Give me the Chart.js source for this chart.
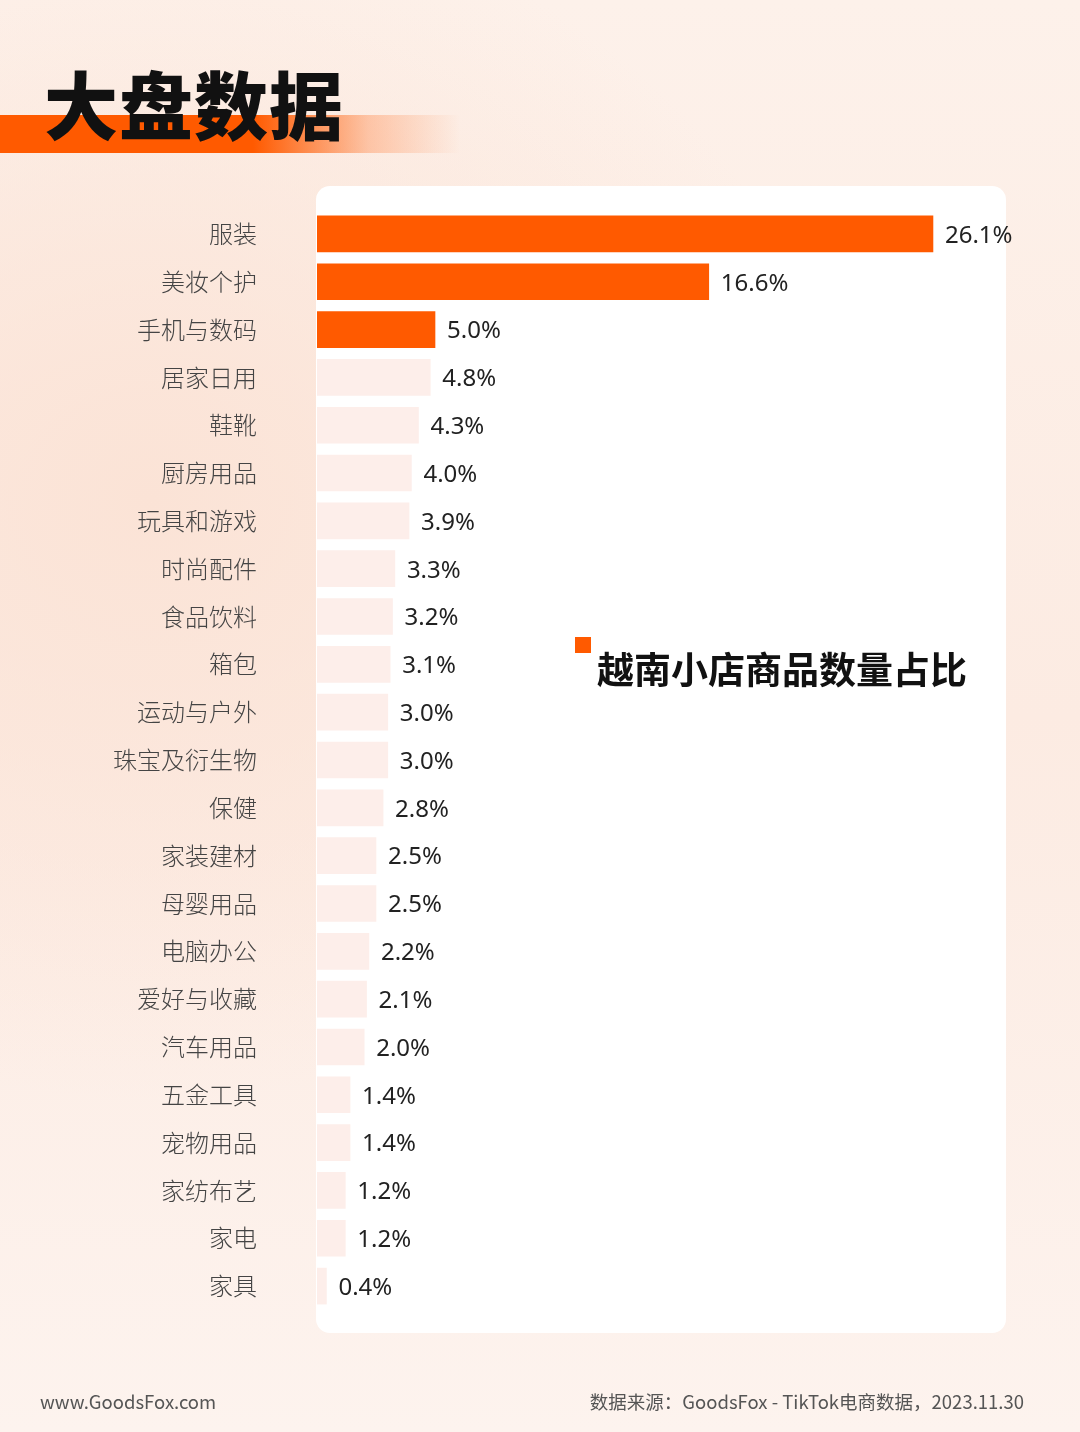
<!DOCTYPE html>
<html><head><meta charset="utf-8">
<script src="https://cdn.jsdelivr.net/npm/chart.js@4"></script>
<style>
html,body{margin:0;padding:0;}
body{width:1080px;height:1432px;position:relative;overflow:hidden;font-family:"Noto Sans CJK SC","Noto Sans",sans-serif;
background:radial-gradient(ellipse 700px 600px at 150px 500px,#fbe3d6 0%,rgba(251,227,214,0) 100%),linear-gradient(180deg,#fdf1ea 0%,#fcebe2 50%,#fdf3ee 100%);}
#stripe{position:absolute;left:0;top:115px;width:460px;height:38px;background:linear-gradient(90deg,#ff5a00 0%,#ff5a00 55%,rgba(255,120,50,0.35) 80%,rgba(255,160,110,0) 100%);}
#title{position:absolute;left:44px;top:52px;font-size:74px;font-weight:900;color:#111;letter-spacing:1px;line-height:100px;}
#card{position:absolute;left:316px;top:186px;width:690px;height:1147px;background:#fff;border-radius:14px;}
#c{position:absolute;left:0;top:0;}
#legend{position:absolute;left:575px;top:637px;}
#legend .sq{position:absolute;left:0;top:0;width:16px;height:16px;background:#ff5a00;}
#legend .t{position:absolute;left:22px;top:6px;white-space:nowrap;font-size:37px;font-weight:700;color:#111;line-height:50px;}
.foot{position:absolute;top:1388px;font-size:18.5px;color:#555;white-space:nowrap;}
</style></head><body>
<div id="stripe"></div>
<div id="title">大盘数据</div>
<div id="card"></div>
<canvas id="c" width="1080" height="1432"></canvas>
<div id="legend"><div class="sq"></div><div class="t">越南小店商品数量占比</div></div>
<div class="foot" style="left:40px">www.GoodsFox.com</div>
<div class="foot" style="right:56px">数据来源：GoodsFox - TikTok电商数据，2023.11.30</div>
<script>
const categories=["服装","美妆个护","手机与数码","居家日用","鞋靴","厨房用品","玩具和游戏","时尚配件","食品饮料","箱包","运动与户外","珠宝及衍生物","保健","家装建材","母婴用品","电脑办公","爱好与收藏","汽车用品","五金工具","宠物用品","家纺布艺","家电","家具"];
const values=[26.1,16.6,5.0,4.8,4.3,4.0,3.9,3.3,3.2,3.1,3.0,3.0,2.8,2.5,2.5,2.2,2.1,2.0,1.4,1.4,1.2,1.2,0.4];
const seriesName="越南小店商品数量占比";
const colors=values.map((v,i)=>i<3?"#ff5a00":"#fdeeea");
const labelPlugin={id:"vl",afterDatasetsDraw(chart){const ctx=chart.ctx;const meta=chart.getDatasetMeta(0);ctx.save();ctx.font="24px 'Noto Sans','Noto Sans CJK SC'";ctx.fillStyle="#222";ctx.textBaseline="middle";meta.data.forEach((b,i)=>{ctx.fillText(values[i].toFixed(1)+"%",b.x+12,b.y+2);});ctx.restore();}};
new Chart(document.getElementById("c"),{type:"bar",data:{labels:categories,datasets:[{label:seriesName,data:values,backgroundColor:colors,barThickness:36,borderWidth:0}]},
options:{indexAxis:"y",responsive:false,animation:false,devicePixelRatio:1,
layout:{padding:{top:210,bottom:122,right:55,left:0}},
plugins:{legend:{display:false},tooltip:{enabled:false}},
scales:{x:{min:0,max:30,display:false},
y:{grid:{display:false},border:{display:false},afterFit(s){s.width=317;},ticks:{padding:52,color:"#444",font:{size:24,weight:"300",family:"'Noto Sans CJK SC'"}}}}},
plugins:[labelPlugin]});
</script></body></html>
